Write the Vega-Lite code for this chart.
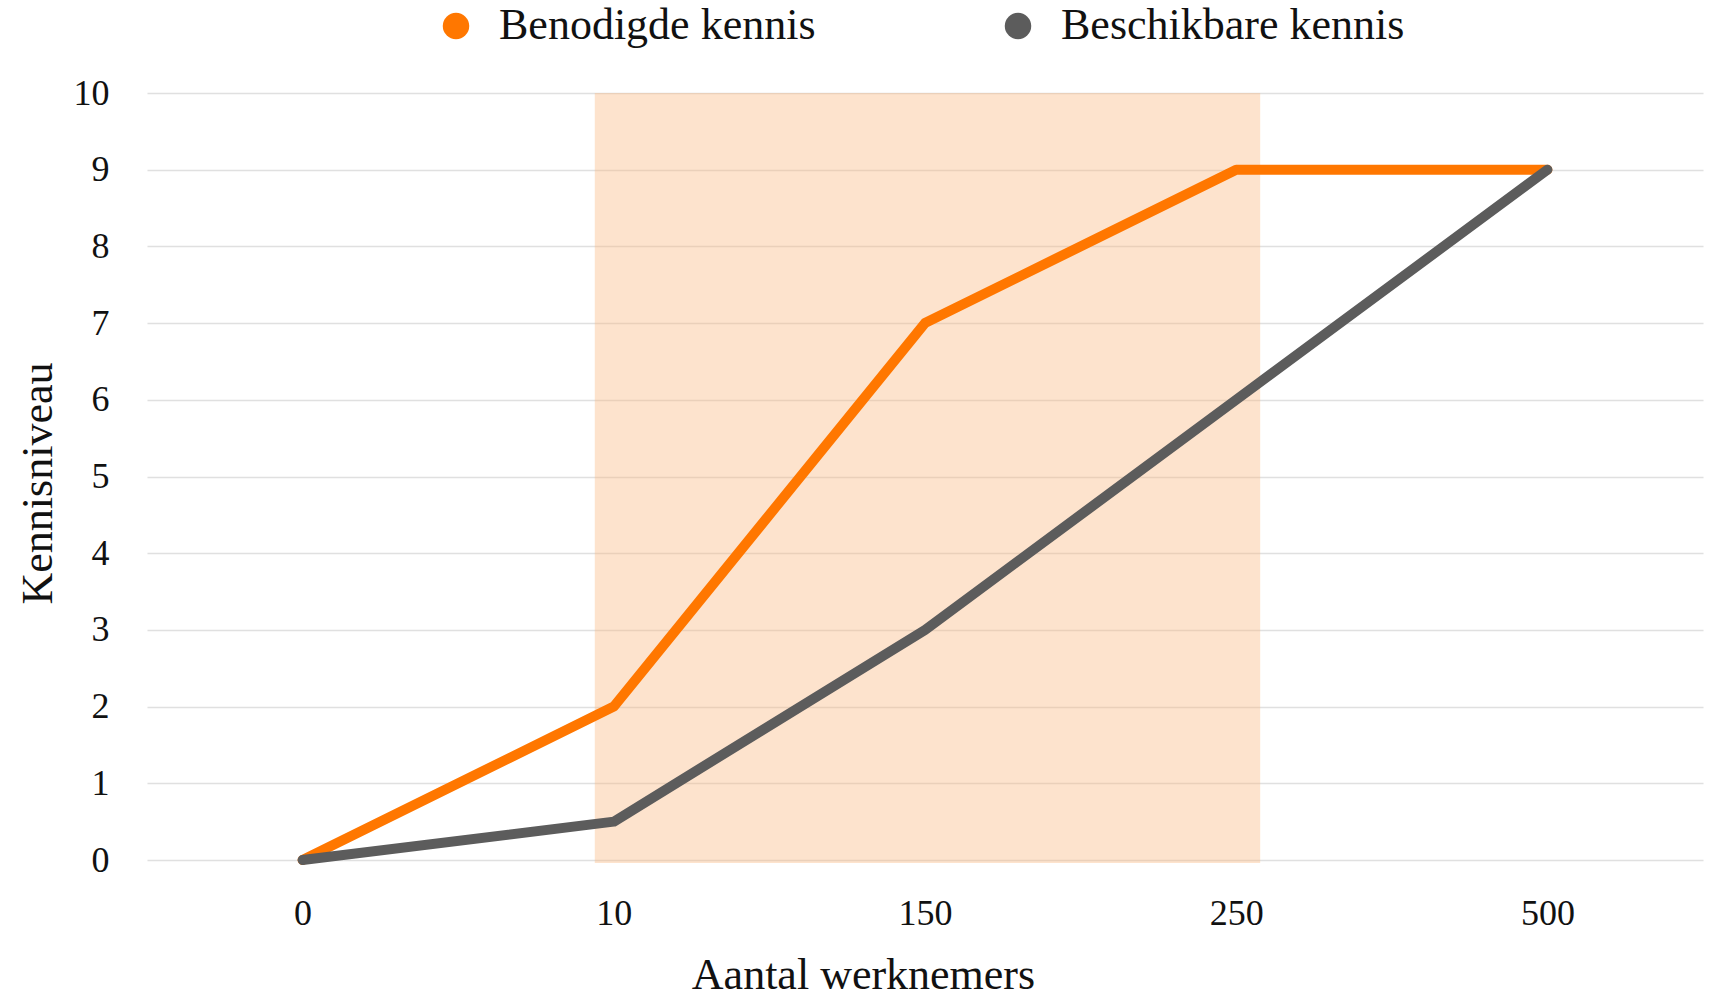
{
  "$schema": "https://vega.github.io/schema/vega-lite/v6.json",
  "width": 1556,
  "height": 767,
  "autosize": "none",
  "padding": {"left": 147, "top": 93, "right": 6, "bottom": 138},
  "background": "white",
  "config": {"view": {"stroke": null}, "font": "Liberation Serif"},
  "datasets": {
    "band": [{"start": "10", "end": "250", "lo": 0, "hi": 10}],
    "lines": [
      {"x": "0", "series": "Benodigde kennis", "y": 0},
      {"x": "10", "series": "Benodigde kennis", "y": 2},
      {"x": "150", "series": "Benodigde kennis", "y": 7},
      {"x": "250", "series": "Benodigde kennis", "y": 9},
      {"x": "500", "series": "Benodigde kennis", "y": 9},
      {"x": "0", "series": "Beschikbare kennis", "y": 0},
      {"x": "10", "series": "Beschikbare kennis", "y": 0.5},
      {"x": "150", "series": "Beschikbare kennis", "y": 3},
      {"x": "250", "series": "Beschikbare kennis", "y": 6},
      {"x": "500", "series": "Beschikbare kennis", "y": 9}
    ]
  },
  "layer": [
    {
      "data": {"name": "band"},
      "mark": {"type": "rect", "color": "#FAB982", "opacity": 0.4, "xOffset": -19, "x2Offset": 24, "y2Offset": 3},
      "encoding": {
        "x": {
          "field": "start", "type": "ordinal",
          "scale": {"type": "point", "domain": ["0", "10", "150", "250", "500"], "padding": 0.5},
          "axis": {
            "title": "Aantal werknemers", "labelAngle": 0, "domain": false, "ticks": false, "grid": false,
            "labelFontSize": 36, "labelColor": "#111", "labelBaseline": "middle", "labelPadding": 53,
            "titleFontSize": 44, "titleFontWeight": "normal", "titleColor": "#111",
            "titleX": 716, "titleY": 128, "titleAlign": "center", "titleBaseline": "alphabetic"
          }
        },
        "x2": {"field": "end"},
        "y": {
          "field": "hi", "type": "quantitative",
          "scale": {"domain": [0, 10], "nice": false},
          "axis": {
            "title": "Kennisniveau", "values": [0,1,2,3,4,5,6,7,8,9,10], "format": "d", "labelOverlap": false,
            "domain": false, "ticks": false, "grid": true, "gridColor": "#E0E0E0", "gridWidth": 1.5,
            "labelFontSize": 36, "labelColor": "#111", "labelPadding": 38,
            "titleFontSize": 44, "titleFontWeight": "normal", "titleColor": "#111",
            "titleX": -109, "titleY": 390, "titleAngle": -90, "titleAlign": "center", "titleBaseline": "middle"
          }
        },
        "y2": {"field": "lo"}
      }
    },
    {
      "data": {"name": "lines"},
      "mark": {"type": "line", "strokeWidth": 10, "strokeCap": "round", "strokeJoin": "round"},
      "encoding": {
        "x": {"field": "x", "type": "ordinal"},
        "y": {"field": "y", "type": "quantitative"},
        "color": {
          "field": "series", "type": "nominal",
          "scale": {"domain": ["Benodigde kennis", "Beschikbare kennis"], "range": ["#FF7700", "#5C5C5C"]},
          "legend": {
            "title": null, "orient": "none", "legendX": 287, "legendY": -89, "direction": "horizontal",
            "symbolType": "circle", "symbolSize": 700, "labelFontSize": 44, "labelColor": "#111",
            "labelOffset": 21, "labelLimit": 0, "columnPadding": 180,
            "encode": {"symbols": {"update": {"fill": {"scale": "color", "field": "value"}, "strokeWidth": {"value": 0}}}}
          }
        }
      }
    }
  ]
}
